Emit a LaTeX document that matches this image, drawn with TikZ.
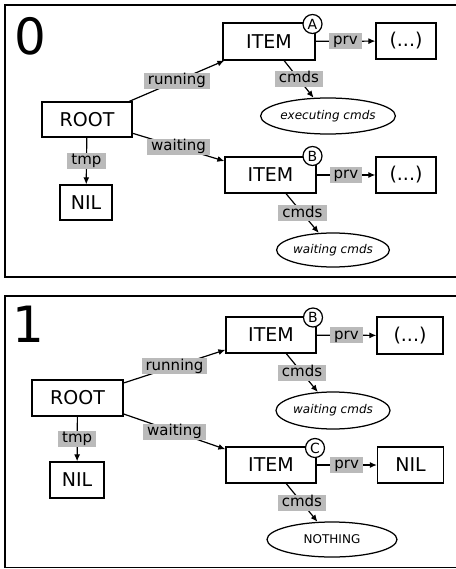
\documentclass[tikz,border=0pt]{standalone}
\usepackage{fontspec}
\setmainfont{DejaVu Sans}
\usetikzlibrary{shapes.geometric,arrows.meta}
\begin{document}
\begin{tikzpicture}[x=1pt,y=-1pt,
  box/.style={draw,line width=1.25pt,fill=white,inner sep=0pt,minimum height=36pt,font=\fontsize{19}{22}\selectfont},
  oval/.style={draw,ellipse,line width=1.25pt,fill=white,inner sep=0pt,font=\fontsize{12}{14}\selectfont\itshape},
  lbl/.style={fill=black!27,inner xsep=4pt,inner ysep=0.75pt,text height=11pt,text depth=3.5pt,font=\fontsize{15}{17}\selectfont},
  tag/.style={draw,circle,line width=1.25pt,fill=white,inner sep=0pt,minimum size=19pt,font=\fontsize{14}{16}\selectfont},
  link/.style={line width=1.2pt,-{Latex[length=7pt,width=6pt]}},
  frame/.style={line width=1.4pt},
  digit/.style={anchor=base west,inner sep=0pt,font=\fontsize{50}{60}\selectfont}]
\useasboundingbox (0,0) rectangle (455,569);

% ---------- panel 0 ----------
\draw[frame] (456,5) -- (5,5) -- (5,277) -- (456,277);
\node[digit] (d0) at (14.7,55) {0};
\node[box,minimum width=90pt,minimum height=35pt] (root0) at (87,119.5) {ROOT};
\node[box,minimum width=52pt,minimum height=35pt] (nil0) at (86,202.5) {NIL};
\node[box,minimum width=92pt,minimum height=37pt] (itemA) at (269,41.5) {ITEM};
\node[box,minimum width=60pt] (dotsA) at (406,41) {(...)};
\node[oval,minimum width=130pt,minimum height=36pt] (ellA) at (328,116) {executing cmds};
\node[box,minimum width=91pt] (itemB0) at (270.5,175) {ITEM};
\node[box,minimum width=60pt] (dotsB0) at (406,175) {(...)};
\node[oval,minimum width=112pt,minimum height=34pt] (ellB0) at (333,250) {waiting cmds};
\node[tag] (tagA) at (312.5,24) {A};
\node[tag] (tagB0) at (312.5,156) {B};

\draw[link] (root0) -- node[lbl] {running} (itemA);
\draw[link] (root0) -- node[lbl] {waiting} (itemB0);
\draw[link] (root0) -- node[lbl] {tmp} (nil0);
\draw[link] (itemA) -- node[lbl] {prv} (dotsA);
\draw[link] (itemA) -- node[lbl] {cmds} (ellA);
\draw[link] (itemB0) -- node[lbl] {prv} (dotsB0);
\draw[link] (itemB0) -- node[lbl] {cmds} (ellB0);

% ---------- panel 1 ----------
\draw[frame] (456,296) -- (5,296) -- (5,567.5) -- (456,567.5);
\node[digit] (d1) at (12.5,342) {1};
\node[box,minimum width=91pt] (root1) at (77.5,398) {ROOT};
\node[box,minimum width=54pt] (nil1) at (77,480) {NIL};
\node[box,minimum width=90pt] (itemB1) at (271,335) {ITEM};
\node[box,minimum width=66pt,minimum height=37pt] (dotsB1) at (410,335.5) {(...)};
\node[oval,minimum width=114pt,minimum height=37pt] (ellB1) at (333,410.5) {waiting cmds};
\node[box,minimum width=90pt] (itemC) at (271,465) {ITEM};
\node[box,minimum width=66pt] (nilR) at (410.5,465) {NIL};
\node[oval,minimum width=130pt,minimum height=35pt,font=\fontsize{12}{14}\selectfont\upshape] (ellC) at (332,539.5) {NOTHING};
\node[tag] (tagB1) at (313,317.5) {B};
\node[tag] (tagC) at (315,448) {C};

\draw[link] (root1) -- node[lbl] {running} (itemB1);
\draw[link] (root1) -- node[lbl] {waiting} (itemC);
\draw[link] (root1) -- node[lbl] {tmp} (nil1);
\draw[link] (itemB1) -- node[lbl] {prv} (dotsB1);
\draw[link] (itemB1) -- node[lbl] {cmds} (ellB1);
\draw[link] (itemC) -- node[lbl] {prv} (nilR);
\draw[link] (itemC) -- node[lbl] {cmds} (ellC);
\end{tikzpicture}
\end{document}
